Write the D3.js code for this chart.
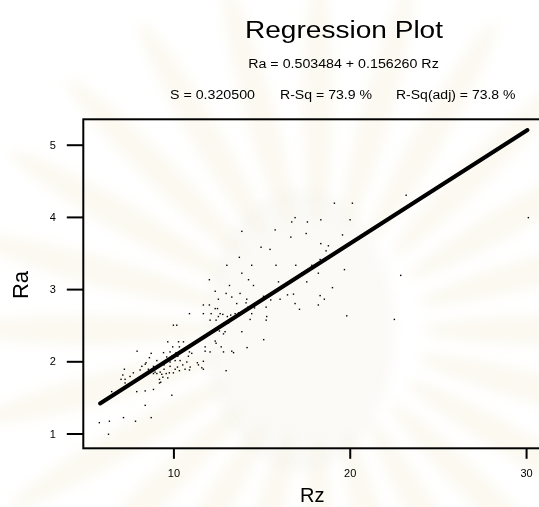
<!DOCTYPE html>
<html>
<head>
<meta charset="utf-8">
<script src="https://cdn.jsdelivr.net/npm/d3@7"></script>
<style>
  body { margin: 0; background: #fff; }
  svg { display: block; }
  text { font-family: "Liberation Sans", Arial, sans-serif; fill: #000; }
</style>
</head>
<body>
<svg id="chart" width="539" height="507"></svg>
<script>
// Observations: surface roughness Rz (x) against Ra (y)
const rzValues = [
  9.68,10.29,10.57,9.96,10.34,7.94,8.74,9.44,9.81,10.15,10.47,10.91,11.04,8.64,9.62,9.91,10.25,10.85,
  8.45,9.06,9.34,9.81,10.10,10.38,10.76,11.36,8.21,8.40,8.87,9.15,9.47,9.81,10.23,10.53,10.95,
  7.22,7.73,8.11,8.58,8.96,9.25,9.47,9.77,10.10,10.34,10.66,10.91,11.42,7.13,7.54,8.87,9.06,9.34,9.59,10.00,
  7.03,7.26,9.21,9.40,9.68,7.26,9.21,9.28,6.50,7.92,8.40,8.87,9.91,8.40,7.17,8.74,5.80,6.37,7.85,6.32,
  13.18,12.37,12.99,13.78,13.31,12.55,14.16,11.70,12.04,12.37,12.50,13.59,14.12,14.22,10.91,11.70,12.14,
  12.65,12.80,12.55,13.06,13.25,13.50,13.69,12.08,12.42,12.88,13.12,10.00,10.19,12.46,12.61,12.93,12.84,13.88,
  12.37,12.42,11.80,12.71,11.80,12.08,12.84,13.31,13.41,11.70,11.61,11.70,12.99,14.18,15.12,
  16.71,17.60,15.77,16.66,17.53,14.97,15.48,14.44,15.82,16.94,17.85,17.28,14.54,15.96,18.22,17.56,15.11,
  16.47,16.81,15.52,16.05,16.90,18.22,14.60,15.26,17.15,14.44,15.29,14.35,15.26,
  13.88,13.74,13.03,13.88,12.04,14.26,
  23.20,19.13,20.15,18.36,20.02,19.59,18.36,18.79,18.66,18.32,19.70,22.89,19.02,18.32,18.56,19.83,22.53,16.90,
  30.13
];
const raValues = [
  2.27,2.27,2.27,2.20,2.20,2.14,2.11,2.12,2.13,2.12,2.13,2.13,2.11,2.05,2.06,2.07,2.07,2.07,
  1.98,2.01,1.97,1.99,2.01,2.01,1.99,1.98,1.93,1.96,1.93,1.92,1.95,1.93,1.92,1.95,1.92,
  1.89,1.84,1.88,1.89,1.85,1.85,1.89,1.84,1.89,1.87,1.89,1.88,1.95,1.81,1.79,1.83,1.83,1.82,1.83,1.84,
  1.75,1.75,1.75,1.78,1.77,1.70,1.70,1.71,1.58,1.58,1.59,1.61,1.53,1.39,1.22,1.22,1.15,1.17,1.17,0.99,
  3.05,2.97,2.94,2.94,2.89,2.86,2.86,2.78,2.78,2.73,2.73,2.80,2.81,2.75,2.66,2.66,2.66,
  2.66,2.65,2.62,2.62,2.64,2.66,2.67,2.57,2.57,2.53,2.53,2.50,2.50,2.43,2.42,2.41,2.38,2.41,
  2.28,2.25,2.20,2.20,2.14,2.13,2.13,2.14,2.12,2.00,1.91,1.89,1.87,2.19,2.30,
  3.93,3.93,3.82,3.72,3.77,3.58,3.55,3.33,3.33,3.33,3.33,3.22,3.05,3.10,3.22,3.10,2.90,
  2.92,2.93,2.85,2.86,2.80,2.78,2.74,2.75,2.72,2.66,2.62,2.58,2.57,
  3.80,3.44,3.33,3.22,3.13,3.13,
  4.30,4.19,4.19,3.96,3.96,3.75,3.63,3.60,3.53,3.41,3.27,3.19,3.02,2.91,2.86,2.63,2.58,3.99,
  3.99
];

// Fitted line Ra = b0 + b1 * Rz over the observed Rz span
const intercept = 0.503484;
const slope = 0.156260;
const fitSpan = [5.84, 30.08];

const xTicks = [10, 20, 30];
const yTicks = [1, 2, 3, 4, 5];

const titleText = "Regression Plot";
const equationText = "Ra = 0.503484 + 0.156260 Rz";
const statTexts = ["S = 0.320500", "R-Sq = 73.9 %", "R-Sq(adj) = 73.8 %"];
const xLabel = "Rz";
const yLabel = "Ra";

const svg = d3.select("#chart");
const plot = { left: 83.3, top: 119.3, right: 539.3, bottom: 448.3 };

const x = d3.scaleLinear().domain([4.89, 30.75]).range([plot.left, plot.right]);
const y = d3.scaleLinear().domain([0.795, 5.352]).range([plot.bottom, plot.top]);

// faint background emblem rays
const defs = svg.append("defs");
defs.append("filter").attr("id", "soft")
  .append("feGaussianBlur").attr("stdDeviation", 6);
const rays = svg.append("g").attr("filter", "url(#soft)").attr("opacity", 0.22);
const cx = 318, cy = 330;
d3.range(0, 360, 15).forEach(a => {
  rays.append("ellipse")
    .attr("transform", `translate(${cx},${cy}) rotate(${a}) translate(230,0)`)
    .attr("rx", 125).attr("ry", 15)
    .attr("fill", "#efe3bd");
});
svg.append("ellipse").attr("cx", 300).attr("cy", 330).attr("rx", 95).attr("ry", 140)
  .attr("fill", "#f3f0e8").attr("opacity", 0.35).attr("filter", "url(#soft)");

// header texts
svg.append("text").attr("x", 344).attr("y", 37.5).attr("text-anchor", "middle")
  .attr("font-size", 23).attr("textLength", 198).attr("lengthAdjust", "spacingAndGlyphs")
  .text(titleText);
svg.append("text").attr("x", 343.5).attr("y", 68).attr("text-anchor", "middle")
  .attr("font-size", 12).attr("textLength", 190.5).attr("lengthAdjust", "spacingAndGlyphs")
  .text(equationText);
const statX = [170, 280, 396];
const statW = [85, 92, 119.5];
statTexts.forEach((t, i) => {
  svg.append("text").attr("x", statX[i]).attr("y", 99).attr("font-size", 12)
    .attr("textLength", statW[i]).attr("lengthAdjust", "spacingAndGlyphs").text(t);
});

// clip for plotting region
defs.append("clipPath").attr("id", "plotClip").append("rect")
  .attr("x", plot.left).attr("y", plot.top)
  .attr("width", plot.right - plot.left + 5).attr("height", plot.bottom - plot.top);

const body = svg.append("g").attr("clip-path", "url(#plotClip)");

// scatter points
body.selectAll("rect.pt").data(rzValues.map((v, i) => [v, raValues[i]]))
  .join("rect").attr("class", "pt")
  .attr("x", d => x(d[0]) - 0.7).attr("y", d => y(d[1]) - 0.7)
  .attr("width", 1.4).attr("height", 1.4).attr("fill", "#000");

// regression line
const fitLine = d3.line().x(d => x(d)).y(d => y(intercept + slope * d));
body.append("path").attr("d", fitLine(fitSpan))
  .attr("fill", "none").attr("stroke", "#000").attr("stroke-width", 4)
  .attr("stroke-linecap", "round");

// frame (open on the right edge of the window)
svg.append("rect").attr("x", plot.left).attr("y", plot.top)
  .attr("width", plot.right - plot.left + 10).attr("height", plot.bottom - plot.top)
  .attr("fill", "none").attr("stroke", "#000").attr("stroke-width", 2);

// axes
const yAxis = d3.axisLeft(y).tickValues(yTicks).tickSize(16.5).tickSizeOuter(0).tickPadding(11)
  .tickFormat(d3.format("d"));
const gy = svg.append("g").attr("transform", `translate(${plot.left},0)`).call(yAxis);
const xAxis = d3.axisBottom(x).tickValues(xTicks).tickSize(10.5).tickSizeOuter(0).tickPadding(10)
  .tickFormat(d3.format("d"));
const gx = svg.append("g").attr("transform", `translate(0,${plot.bottom})`).call(xAxis);
[gx, gy].forEach(g => {
  g.attr("font-size", 11).attr("font-family", "Liberation Sans, Arial, sans-serif");
  g.select(".domain").remove();
  g.selectAll(".tick line").attr("stroke", "#000").attr("stroke-width", 2);
  g.selectAll(".tick text").attr("fill", "#000");
});

// axis titles
svg.append("text").attr("x", 312.3).attr("y", 502).attr("text-anchor", "middle")
  .attr("font-size", 20).text(xLabel);
svg.append("text").attr("transform", "translate(28,285) rotate(-90)")
  .attr("text-anchor", "middle").attr("font-size", 22).text(yLabel);
</script>
</body>
</html>
